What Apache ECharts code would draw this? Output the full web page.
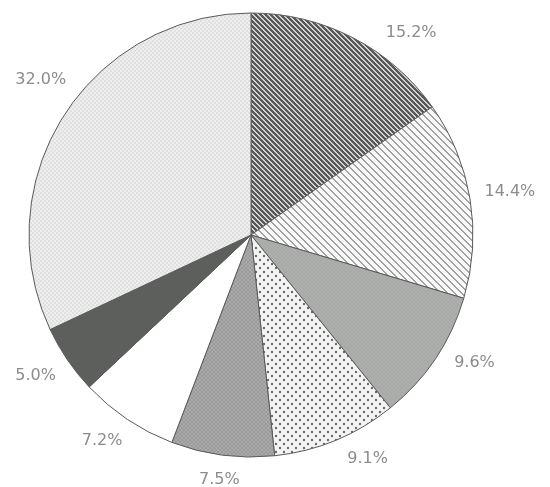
<!DOCTYPE html>
<html>
<head>
<meta charset="utf-8">
<script src="https://cdn.jsdelivr.net/npm/echarts@6/dist/echarts.min.js"></script>
<style>
  html, body { margin: 0; padding: 0; background: #fff; }
  #chart { width: 550px; height: 487px; }
</style>
</head>
<body>
<div id="chart"></div>
<script>
// slice shares, clockwise from 12 o'clock
var shares = [15.2, 14.4, 9.6, 9.1, 7.5, 7.2, 5.0, 32.0];
var shareLabels = ['15.2%', '14.4%', '9.6%', '9.1%', '7.5%', '7.2%', '5.0%', '32.0%'];

var CX = 251, CY = 235, R = 222;
// 标签相对中线的角度微调（度）
var labelTurn = [11, 0, -4, -5, 0, 2, 1, 4];

// 斜线纹理（逐像素画，避免拼接缝）
function stripes(bg, fg, gap, lw) {
    var c = document.createElement('canvas');
    c.width = gap; c.height = gap;
    var ctx = c.getContext('2d');
    ctx.fillStyle = bg;
    ctx.fillRect(0, 0, gap, gap);
    ctx.fillStyle = fg;
    for (var x = 0; x < gap; x++) {
        for (var y = 0; y < gap; y++) {
            if (((x - y) % gap + gap) % gap < lw) ctx.fillRect(x, y, 1, 1);
        }
    }
    return { image: c, repeat: 'repeat' };
}

// 点状纹理
function dots(bg, fg, step, r) {
    var c = document.createElement('canvas');
    c.width = step; c.height = step;
    var ctx = c.getContext('2d');
    ctx.fillStyle = bg;
    ctx.fillRect(0, 0, step, step);
    ctx.fillStyle = fg;
    var pts = [[0, 0], [step, 0], [0, step], [step, step], [step / 2, step / 2]];
    pts.forEach(function (p) {
        ctx.beginPath();
        ctx.arc(p[0], p[1], r, 0, Math.PI * 2);
        ctx.fill();
    });
    return { image: c, repeat: 'repeat' };
}

function checker(a, b, size) {
    var c = document.createElement('canvas');
    c.width = size * 2; c.height = size * 2;
    var ctx = c.getContext('2d');
    ctx.fillStyle = a;
    ctx.fillRect(0, 0, size * 2, size * 2);
    ctx.fillStyle = b;
    ctx.fillRect(0, 0, size, size);
    ctx.fillRect(size, size, size, size);
    return { image: c, repeat: 'repeat' };
}

var fills = [
    stripes('#d2d2d2', '#585858', 5, 3),
    stripes('#f8f8f8', '#a2a2a2', 7, 2),
    dots('#a8aaa8', '#b8bab8', 4, 0.7),
    dots('#f4f4f4', '#6a6a6a', 8, 1.2),
    dots('#989998', '#c2c2c2', 4, 0.8),
    '#ffffff',
    '#5c5f5c',
    checker('#eeeeee', '#e0e0e0', 2)
];

// 每块的中间角度（从 12 点顺时针）
var total = shares.reduce(function (a, b) { return a + b; }, 0);
var midAngles = [];
(function () {
    var acc = 0;
    shares.forEach(function (v) {
        midAngles.push((acc + v / 2) / total * Math.PI * 2);
        acc += v;
    });
})();

var myChart = echarts.init(document.getElementById('chart'));

var option = {
    animation: false,
    backgroundColor: '#fff',
    series: [
        {
            type: 'pie',
            center: [CX, CY],
            radius: R,
            startAngle: 90,
            clockwise: true,
            silent: true,
            avoidLabelOverlap: false,
            label: {
                show: true,
                position: 'outside',
                color: '#8c8c8c',
                fontSize: 16,
                fontFamily: 'DejaVu Sans, sans-serif',
                formatter: function (p) { return shareLabels[p.dataIndex]; }
            },
            labelLine: { show: false },
            labelLayout: function (params) {
                var a = midAngles[params.dataIndex] + labelTurn[params.dataIndex] * Math.PI / 180;
                var s = Math.sin(a), c = Math.cos(a);
                var w = params.labelRect.width, h = params.labelRect.height;
                // 标签框最近边离圆心约 R + 14
                var d = R + 14 + Math.abs(s) * w / 2 + Math.abs(c) * h / 2;
                return {
                    x: CX + d * s,
                    y: CY - d * c,
                    align: 'center',
                    verticalAlign: 'middle'
                };
            },
            itemStyle: { borderColor: '#5a5a5a', borderWidth: 1 },
            data: shares.map(function (v, i) {
                return { value: v, itemStyle: { color: fills[i] } };
            })
        }
    ]
};

myChart.setOption(option);
</script>
</body>
</html>
